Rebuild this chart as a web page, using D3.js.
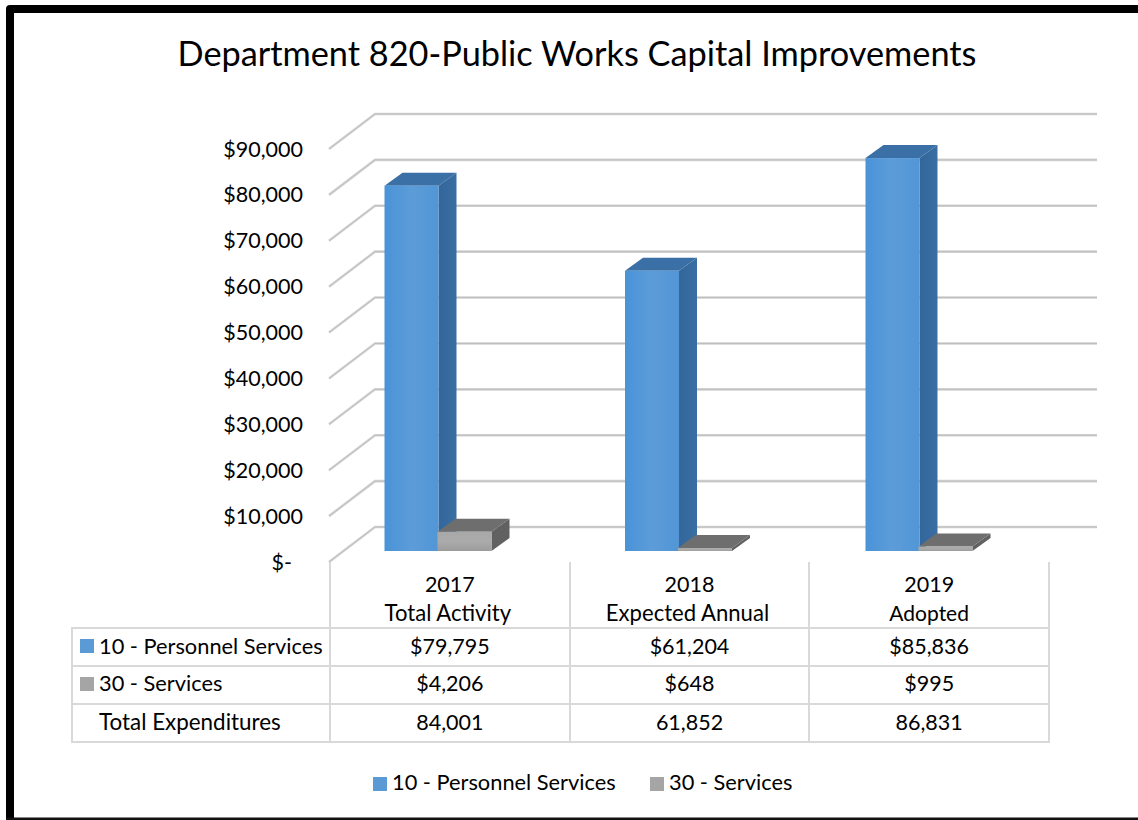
<!DOCTYPE html>
<html><head><meta charset="utf-8">
<script src="https://cdnjs.cloudflare.com/ajax/libs/d3/7.8.5/d3.min.js"></script>
<style>html,body{margin:0;padding:0;background:#fff}svg{display:block}text{font-family:Lato,"Open Sans",sans-serif;fill:#000}</style>
</head><body><div id="c"></div>
<script>
const title = "Department 820-Public Works Capital Improvements";
const categories = ["2017", "2018", "2019"];
const categorySub = ["Total Activity", "Expected Annual", "Adopted"];
const seriesNames = ["10 - Personnel Services", "30 - Services"];
const personnel = [79795, 61204, 85836];
const services = [4206, 648, 995];
const personnelLabels = ["$79,795", "$61,204", "$85,836"];
const servicesLabels = ["$4,206", "$648", "$995"];
const totalLabels = ["84,001", "61,852", "86,831"];
const totalName = "Total Expenditures";
const tickValues = [0, 10000, 20000, 30000, 40000, 50000, 60000, 70000, 80000, 90000];
const colors = ["#5b9bd5", "#a5a5a5"];

const W = 1138, H = 820;
const svg = d3.select("#c").append("svg").attr("width", W).attr("height", H);
const defs = svg.append("defs");
function grad(id, stops, x2, y2) {
  const g = defs.append("linearGradient").attr("id", id).attr("x1", 0).attr("y1", 0).attr("x2", x2).attr("y2", y2);
  stops.forEach(s => g.append("stop").attr("offset", s[0]).attr("stop-color", s[1]));
}
grad("blueFront", [[0, "#4a93d8"], [0.5, "#5c9cd8"], [1, "#5296d6"]], 1, 0);
grad("blueSide", [[0, "#33669a"], [1, "#3a6fa3"]], 1, 0);
grad("greyFront", [[0, "#a8a8a8"], [0.5, "#ababab"], [1, "#9c9c9c"]], 0, 1);

// page frame: left, top and bottom edges only
svg.append("path").attr("d", "M6,820V9Q6,5 10,5H1138V13H14V820Z").attr("fill", "#000");
svg.append("rect").attr("x", 6).attr("y", 817.5).attr("width", W - 6).attr("height", 2.5).attr("fill", "#111");

svg.append("text").attr("x", 577).attr("y", 66).attr("text-anchor", "middle")
  .attr("font-size", 34.3).text(title);

// plot geometry
const y = d3.scaleLinear().domain([0, 90000]).range([551, 139]);
const yFloor = d3.scaleLinear().domain([0, 90000]).range([562, 149]);
const depth = {dx: 46, dy: -35};
const barDepth = {dx: 18, dy: -13};
const x = d3.scaleBand().domain(categories).range([330, 1049]).padding(0);
const xBar = d3.scalePoint().domain(categories).range([384.5, 865.5]);
const barW = 54;

// gridlines
const grid = svg.append("g");
tickValues.forEach(v => {
  const yf = yFloor(v), yb = yf + depth.dy;
  const d = d3.line()([[329, yf], [329 + depth.dx, yb], [1097, yb]]);
  grid.append("path").attr("d", d).attr("fill", "none").attr("stroke", "#d4d4d4").attr("stroke-width", 2.6);
  grid.append("path").attr("d", d).attr("fill", "none").attr("stroke", "#b8b8b8").attr("stroke-width", 0.8);
});

// 3D bars
function bar(g, x0, value, fFront, cTop, fSide) {
  const x1 = x0 + barW, yb = y(0), yt = y(value), dx = barDepth.dx, dy = barDepth.dy;
  g.append("path").attr("d", d3.line()([[x1, yb], [x1 + dx, yb + dy], [x1 + dx, yt + dy], [x1, yt]]) + "Z").attr("fill", fSide);
  g.append("path").attr("d", d3.line()([[x0, yt], [x0 + dx, yt + dy], [x1 + dx, yt + dy], [x1, yt]]) + "Z").attr("fill", cTop);
  g.append("rect").attr("x", x0).attr("y", yt).attr("width", barW).attr("height", yb - yt).attr("fill", fFront);
}
const bars = svg.append("g");
categories.forEach((c, i) => {
  bar(bars, xBar(c), personnel[i], "url(#blueFront)", "#3a70a6", "url(#blueSide)");
  bar(bars, xBar(c) + barW - 1, services[i], "url(#greyFront)", "#6e6e6e", "#616161");
});

// y axis
const yAxis = d3.axisLeft(yFloor).tickValues(tickValues).tickSize(0).tickPadding(0)
  .tickFormat(v => v === 0 ? "$-" : d3.format("$,")(v));
const ax = svg.append("g").attr("transform", "translate(303,-0.5)").call(yAxis);
ax.select(".domain").remove();
ax.selectAll("text").attr("font-size", 21.5).attr("dy", "0.35em")
  .attr("text-anchor", "end").attr("x", v => v === 0 ? -11 : 0);

// data table
const rowY = d3.scaleLinear().domain([0, 3]).range([628, 742]);
const tbl = svg.append("g").attr("stroke", "#d9d9d9").attr("stroke-width", 2);
[0, 1, 2, 3].forEach(r => tbl.append("line").attr("x1", 71).attr("x2", 1050).attr("y1", rowY(r)).attr("y2", rowY(r)));
tbl.append("line").attr("x1", 72).attr("x2", 72).attr("y1", 628).attr("y2", 742);
[330, 570, 809, 1049].forEach(v => tbl.append("line").attr("x1", v).attr("x2", v).attr("y1", 562).attr("y2", 742));

const fsNum = 21.5, fs = 22.1;
categories.forEach((c, i) => {
  const cx = x(c) + x.bandwidth() / 2;
  svg.append("text").attr("x", cx).attr("y", 592).attr("text-anchor", "middle").attr("font-size", fsNum).text(c);
  svg.append("text").attr("x", cx - (i === 2 ? 0 : 2)).attr("y", 621).attr("text-anchor", "middle")
    .attr("font-size", i === 2 ? 21 : fs).text(categorySub[i]);
  [personnelLabels, servicesLabels, totalLabels].forEach((arr, r) => {
    svg.append("text").attr("x", cx).attr("y", rowY(r) + (r === 1 ? 25 : 26)).attr("text-anchor", "middle").attr("font-size", fsNum).text(arr[i]);
  });
});
[seriesNames[0], seriesNames[1], totalName].forEach((n, r) => {
  svg.append("text").attr("x", 99).attr("y", rowY(r) + (r === 1 ? 25 : 26)).attr("font-size", r === 2 ? 22.4 : 21.8).text(n);
  if (r < 2) svg.append("rect").attr("x", 80).attr("y", rowY(r) + 11).attr("width", 14).attr("height", 14).attr("fill", colors[r]);
});

// legend
const legendX = [373, 650];
seriesNames.forEach((n, i) => {
  svg.append("rect").attr("x", legendX[i]).attr("y", 777).attr("width", 14).attr("height", 14).attr("fill", colors[i]);
  svg.append("text").attr("x", legendX[i] + 19).attr("y", 790).attr("font-size", 21.8).text(n);
});
</script></body></html>
